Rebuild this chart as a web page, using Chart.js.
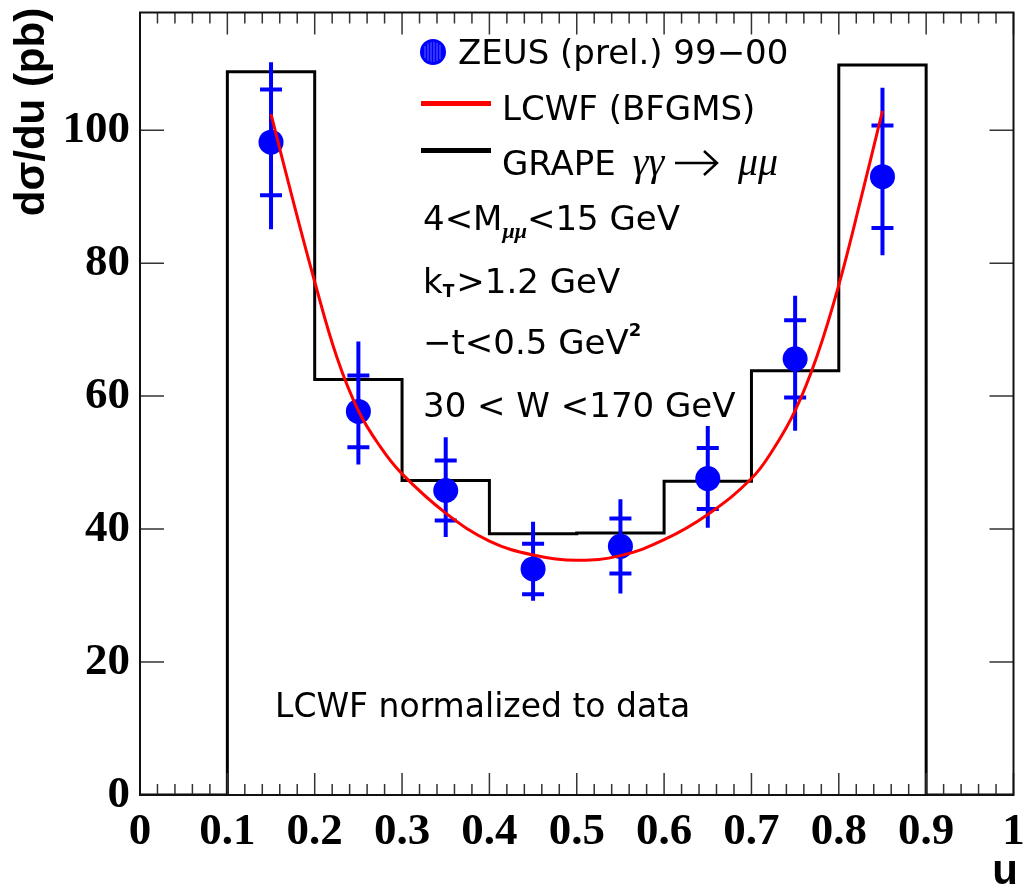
<!DOCTYPE html>
<html>
<head>
<meta charset="utf-8">
<script src="https://cdn.jsdelivr.net/npm/chart.js@4.4.1/dist/chart.umd.min.js"></script>
<style>
  html, body { margin: 0; padding: 0; background: #fff; }
  #wrap { width: 1026px; height: 889px; }
</style>
</head>
<body>
<div id="wrap"><canvas id="myChart" width="1026" height="889"></canvas></div>
<script>
// tick labels
const xTicks = [0, 0.1, 0.2, 0.3, 0.4, 0.5, 0.6, 0.7, 0.8, 0.9, 1];
const xTickLabels = ['0', '0.1', '0.2', '0.3', '0.4', '0.5', '0.6', '0.7', '0.8', '0.9', '1'];
const yTicks = [0, 20, 40, 60, 80, 100];

// GRAPE histogram (bin edges, value of each bin starting at that edge)
const binEdges = [0, 0.1, 0.2, 0.3, 0.4, 0.5, 0.6, 0.7, 0.8, 0.9, 1.0];
const grapeValues = [0, 108.8, 62.5, 47.3, 39.3, 39.4, 47.2, 63.8, 109.8, 0, 0];

// ZEUS data points
const dataU = [0.15, 0.25, 0.35, 0.45, 0.55, 0.65, 0.75, 0.85];
const dataY = [98.2, 57.7, 45.8, 34.0, 37.4, 47.6, 65.6, 93.0];
const statHi = [106.1, 63.1, 50.3, 37.8, 41.6, 52.2, 71.4, 100.7];
const statLo = [90.2, 52.3, 41.3, 30.2, 33.3, 43.0, 59.8, 85.3];
const totHi = [110.2, 68.2, 53.8, 41.1, 44.5, 55.5, 75.1, 106.4];
const totLo = [85.1, 49.7, 38.8, 29.2, 30.3, 40.2, 54.8, 81.2];

// LCWF curve
const curveU = [0.15, 0.175, 0.2, 0.225, 0.25, 0.275, 0.3, 0.35, 0.4, 0.45, 0.5, 0.55, 0.6, 0.65, 0.7, 0.725, 0.75, 0.775, 0.8, 0.825, 0.85];
const curveY = [102.4, 89.5, 77.2, 66.0, 57.8, 52.4, 48.3, 42.4, 38.2, 36.1, 35.3, 36.0, 38.4, 42.2, 47.6, 52.0, 57.8, 66.0, 76.7, 89.5, 102.9];

const BLUE = '#0000ff';
const RED = '#ff0000';

// error bars drawn just before the data points
const errorBars = {
  id: 'errorBars',
  beforeDatasetDraw(chart, args) {
    if (args.index !== 1) return;
    const {ctx, scales: {x, y}} = chart;
    ctx.save();
    ctx.strokeStyle = BLUE;
    ctx.lineWidth = 4;
    dataU.forEach((u, i) => {
      const px = x.getPixelForValue(u);
      ctx.beginPath();
      ctx.moveTo(px, y.getPixelForValue(totLo[i]));
      ctx.lineTo(px, y.getPixelForValue(totHi[i]));
      [statHi[i], statLo[i]].forEach(v => {
        const py = y.getPixelForValue(v);
        ctx.moveTo(px - 11, py);
        ctx.lineTo(px + 11, py);
      });
      ctx.stroke();
    });
    ctx.restore();
  }
};

// ROOT style frame with ticks pointing inwards
const frame = {
  id: 'frame',
  afterDraw(chart) {
    const {ctx, chartArea: a, scales: {x, y}} = chart;
    ctx.save();
    ctx.strokeStyle = '#333';
    ctx.lineWidth = 1.5;
    ctx.beginPath();
    for (let k = 0; k <= 50; k++) {
      const px = x.getPixelForValue(k * 0.02);
      const len = k % 5 === 0 ? 22 : 11;
      ctx.moveTo(px, a.bottom); ctx.lineTo(px, a.bottom - len);
      ctx.moveTo(px, a.top); ctx.lineTo(px, a.top + len);
    }
    yTicks.forEach(v => {
      const py = y.getPixelForValue(v);
      ctx.moveTo(a.left, py); ctx.lineTo(a.left + 24, py);
      ctx.moveTo(a.right, py); ctx.lineTo(a.right - 24, py);
    });
    ctx.stroke();
    ctx.strokeStyle = '#111';
    ctx.lineWidth = 2;
    ctx.strokeRect(a.left, a.top, a.right - a.left, a.bottom - a.top);
    ctx.restore();
  }
};

// legend, cuts and axis titles
const texts = {
  id: 'texts',
  afterDraw(chart) {
    const ctx = chart.ctx;
    const sans = '34px "DejaVu Sans"';
    const greek = 'italic 40px "Liberation Serif"';
    ctx.save();
    ctx.fillStyle = '#000';
    ctx.textBaseline = 'alphabetic';
    ctx.textAlign = 'left';

    function run(x, y, parts) {
      parts.forEach(p => {
        ctx.font = p[1] || sans;
        ctx.fillText(p[0], x, y + (p[2] || 0));
        x += ctx.measureText(p[0]).width + (p[3] || 0);
      });
      return x;
    }

    // legend entries
    ctx.fillStyle = BLUE;
    ctx.beginPath(); ctx.arc(433, 52, 13, 0, Math.PI * 2); ctx.fill();
    ctx.strokeStyle = 'rgba(120,120,255,0.8)'; ctx.lineWidth = 1;
    ctx.beginPath();
    for (let dx = -8; dx <= 8; dx += 3) {
      const h = Math.sqrt(100 - dx * dx);
      ctx.moveTo(433 + dx, 52 - h); ctx.lineTo(433 + dx, 52 + h);
    }
    ctx.stroke();
    ctx.fillStyle = '#000';
    run(458, 64, [['ZEUS (prel.) 99\u221200']]);

    ctx.strokeStyle = RED; ctx.lineWidth = 5;
    ctx.beginPath(); ctx.moveTo(421, 103.5); ctx.lineTo(491, 103.5); ctx.stroke();
    run(502, 120, [['LCWF (BFGMS)']]);

    ctx.strokeStyle = '#000'; ctx.lineWidth = 5;
    ctx.beginPath(); ctx.moveTo(421, 150.5); ctx.lineTo(491, 150.5); ctx.stroke();
    run(502, 175, [['GRAPE ', sans, 0, 6], ['\u03b3\u03b3', greek]]);
    ctx.lineWidth = 2.5;
    ctx.beginPath();
    ctx.moveTo(675, 163); ctx.lineTo(717, 163);
    ctx.moveTo(704, 151); ctx.lineTo(717, 163); ctx.lineTo(704, 175);
    ctx.stroke();
    run(738, 175, [['\u03bc\u03bc', greek]]);

    // cuts
    run(423, 230, [['4<M'], ['\u03bc\u03bc', 'italic bold 22px "Liberation Serif"', 8], ['<15 GeV']]);
    run(423, 293, [['k'], ['T', 'bold 17px "DejaVu Sans"', 4, 2], ['>1.2 GeV']]);
    run(423, 354, [['\u2212t<0.5 GeV'], ['2', 'bold 18px "DejaVu Sans"', -18]]);
    run(423, 417, [['30 < W <170 GeV']]);
    run(275, 717, [['LCWF normalized to data', '33px "DejaVu Sans"']]);

    // axis titles
    ctx.font = 'bold 42px "Liberation Sans"';
    ctx.textAlign = 'right';
    ctx.fillText('u', 1018, 884);
    ctx.translate(44, 112);
    ctx.rotate(-Math.PI / 2);
    ctx.textAlign = 'center';
    ctx.fillText('d\u03c3/du (pb)', 0, 0);
    ctx.restore();
  }
};

const tickFont = {family: '"Liberation Serif", "Times New Roman", serif', size: 45, weight: 'bold'};

new Chart(document.getElementById('myChart'), {
  type: 'scatter',
  data: {
    datasets: [
      {
        type: 'line',
        label: 'LCWF (BFGMS)',
        data: curveU.map((u, i) => ({x: u, y: curveY[i]})),
        borderColor: RED,
        borderWidth: 3,
        pointRadius: 0,
        tension: 0.4,
        fill: false
      },
      {
        label: 'ZEUS (prel.) 99-00',
        data: dataU.map((u, i) => ({x: u, y: dataY[i]})),
        backgroundColor: BLUE,
        borderWidth: 0,
        pointRadius: 12.5
      },
      {
        type: 'line',
        label: 'GRAPE',
        data: binEdges.map((e, i) => ({x: e, y: grapeValues[i]})),
        borderColor: '#000',
        borderWidth: 3,
        pointRadius: 0,
        stepped: 'before',
        fill: false
      }
    ]
  },
  options: {
    responsive: false,
    animation: false,
    events: [],
    layout: {padding: {top: 9, right: 8, left: 0, bottom: 0}},
    plugins: {legend: {display: false}, tooltip: {enabled: false}},
    scales: {
      x: {
        type: 'linear',
        min: 0, max: 1,
        afterBuildTicks: s => { s.ticks = xTicks.map(v => ({value: v})); },
        afterFit: s => { s.height = 94; s.paddingLeft = 0; s.paddingRight = 0; },
        grid: {display: false, drawTicks: false},
        border: {display: false},
        ticks: {
          color: '#000',
          font: tickFont,
          padding: 10,
          maxRotation: 0,
          autoSkip: false,
          callback: (v, i) => xTickLabels[i]
        }
      },
      y: {
        type: 'linear',
        min: 0, max: 117.7,
        afterBuildTicks: s => { s.ticks = yTicks.map(v => ({value: v})); },
        afterFit: s => { s.width = 140; s.paddingTop = 0; s.paddingBottom = 0; },
        grid: {display: false, drawTicks: false},
        border: {display: false},
        ticks: {
          color: '#000',
          font: tickFont,
          padding: 10,
          autoSkip: false,
          callback: v => String(v)
        }
      }
    }
  },
  plugins: [errorBars, frame, texts]
});
</script>
</body>
</html>
